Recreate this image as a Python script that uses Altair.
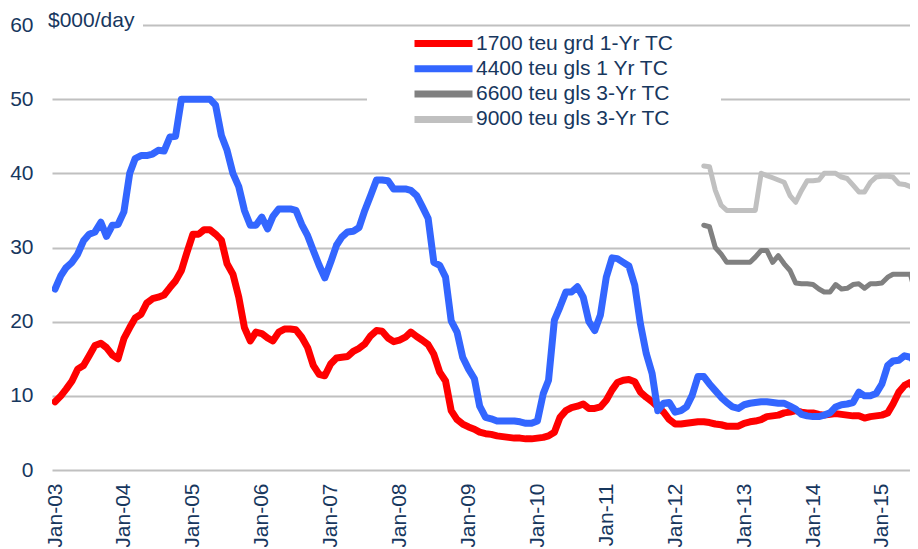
import altair as alt
import pandas as pd

# ---------------- data ----------------
series_names = [
    "1700 teu grd 1-Yr TC",
    "4400 teu gls 1 Yr TC",
    "6600 teu gls 3-Yr TC",
    "9000 teu gls 3-Yr TC",
]
series_colors = ["#FF0000", "#3366FF", "#808080", "#C0C0C0"]

# monthly, Jan-03 .. Jul-15
red_values = [
    9.2, 10.0, 10.9, 12.0, 13.6, 14.1, 15.4, 16.8, 17.1, 16.5, 15.5, 15.0,   # 2003
    17.7, 19.2, 20.5, 21.0, 22.5, 23.1, 23.3, 23.6, 24.6, 25.5, 26.9, 29.4,  # 2004
    31.8, 31.8, 32.4, 32.4, 31.8, 31.0, 27.8, 26.4, 23.3, 19.2, 17.4, 18.6,  # 2005
    18.4, 17.8, 17.4, 18.6, 19.0, 19.0, 18.9, 17.9, 16.5, 14.1, 12.9, 12.7,  # 2006
    14.3, 15.1, 15.2, 15.3, 16.0, 16.4, 17.0, 18.1, 18.8, 18.7, 17.8, 17.3,  # 2007
    17.5, 17.9, 18.6, 18.0, 17.5, 16.9, 15.6, 13.2, 12.0, 8.0, 6.8, 6.2,     # 2008
    5.8, 5.5, 5.1, 4.9, 4.8, 4.6, 4.5, 4.4, 4.3, 4.3, 4.2, 4.2,              # 2009
    4.3, 4.4, 4.6, 5.1, 7.1, 8.0, 8.4, 8.6, 8.9, 8.3, 8.3, 8.5,              # 2010
    9.4, 10.8, 11.8, 12.1, 12.2, 11.9, 10.5, 9.8, 9.2, 8.5, 7.8, 6.8,        # 2011
    6.2, 6.2, 6.3, 6.4, 6.5, 6.5, 6.4, 6.2, 6.1, 5.9, 5.9, 5.9,              # 2012
    6.3, 6.5, 6.6, 6.8, 7.2, 7.3, 7.4, 7.7, 7.8, 8.0, 7.8, 7.7,              # 2013
    7.7, 7.5, 7.4, 7.5, 7.6, 7.5, 7.4, 7.3, 7.3, 7.0, 7.2, 7.3,              # 2014
    7.4, 7.7, 8.9, 10.5, 11.4, 11.8, 10.5,                                   # 2015
]
blue_values = [
    24.4, 26.2, 27.3, 28.0, 29.1, 30.9, 31.8, 32.1, 33.4, 31.5, 33.0, 33.1,  # 2003
    34.8, 40.0, 42.0, 42.4, 42.4, 42.6, 43.1, 43.0, 44.9, 45.0, 50.0, 50.0,  # 2004
    50.0, 50.0, 50.0, 50.0, 49.2, 45.1, 43.1, 40.0, 38.2, 35.0, 33.0, 33.0,  # 2005
    34.1, 32.5, 34.2, 35.2, 35.2, 35.2, 35.0, 33.1, 31.6, 29.6, 27.6, 25.9,  # 2006
    28.0, 30.3, 31.4, 32.1, 32.2, 32.7, 35.0, 37.0, 39.1, 39.1, 39.0, 37.9,  # 2007
    37.9, 37.9, 37.7, 37.0, 35.5, 33.9, 28.0, 27.6, 26.0, 20.1, 18.6, 15.2,  # 2008
    13.6, 12.3, 8.6, 7.1, 6.9, 6.6, 6.6, 6.6, 6.6, 6.5, 6.3, 6.3,            # 2009
    6.6, 10.3, 12.1, 20.2, 22.0, 24.0, 24.0, 24.7, 23.3, 20.0, 18.8, 20.9,   # 2010
    26.0, 28.6, 28.5, 28.0, 27.5, 24.9, 19.7, 15.7, 13.0, 8.0, 9.0, 9.1,     # 2011
    7.8, 8.0, 8.5, 10.1, 12.6, 12.6, 11.6, 10.7, 9.8, 9.1, 8.5, 8.3,         # 2012
    8.8, 9.0, 9.1, 9.2, 9.2, 9.1, 9.0, 9.0, 8.6, 8.2, 7.5, 7.3,              # 2013
    7.2, 7.2, 7.4, 7.7, 8.5, 8.8, 8.9, 9.1, 10.5, 10.0, 10.0, 10.3,          # 2014
    11.6, 14.1, 14.7, 14.8, 15.4, 15.2, 14.5,                                # 2015
]
# monthly, Jun-12 .. Jul-15
dark_gray_values = [
    33.0, 32.8, 30.0, 29.1, 28.0, 28.0, 28.0,                                # 2012
    28.0, 28.0, 28.7, 29.6, 29.6, 28.0, 28.9, 27.8, 26.9, 25.2, 25.1, 25.1,  # 2013
    25.0, 24.4, 24.0, 24.0, 25.0, 24.4, 24.5, 25.0, 25.1, 24.5, 25.1, 25.1,  # 2014
    25.2, 26.0, 26.4, 26.4, 26.4, 26.4, 23.5,                                # 2015
]
light_gray_values = [
    41.0, 40.9, 37.7, 35.7, 35.0, 35.0, 35.0,                                # 2012
    35.0, 35.0, 35.0, 40.0, 39.7, 39.4, 39.1, 38.8, 37.0, 36.1, 37.7, 39.0,  # 2013
    39.0, 39.1, 40.0, 40.0, 40.0, 39.5, 39.3, 38.4, 37.5, 37.5, 38.8, 39.5,  # 2014
    39.6, 39.6, 39.5, 38.6, 38.5, 38.2, 37.8,                                # 2015
]
months = pd.date_range("2003-01-01", "2015-07-01", freq="MS").strftime("%Y-%m-%d").tolist()
gray_months = months[months.index("2012-06-01"):]
tick_years = list(range(2003, 2016))
y_ticks = [0, 10, 20, 30, 40, 50, 60]
unit_label = "$000/day"

assert len(red_values) == len(months), len(red_values)
assert len(blue_values) == len(months), len(blue_values)
assert len(dark_gray_values) == len(gray_months), len(dark_gray_values)
assert len(light_gray_values) == len(gray_months), len(light_gray_values)

rows = []
for name, ms, vals in [
    (series_names[0], months, red_values),
    (series_names[1], months, blue_values),
    (series_names[2], gray_months, dark_gray_values),
    (series_names[3], gray_months, light_gray_values),
]:
    for d, v in zip(ms, vals):
        rows.append({"date": d, "value": v, "series": name})
df = pd.DataFrame(rows)

# ---------------- style ----------------
FONT = "Liberation Sans"
TXT = "#17375E"

x_enc = alt.X(
    "date:T",
    scale=alt.Scale(
        type="utc",
        domain=[alt.DateTime(year=2002, month=12, date=16, utc=True),
                alt.DateTime(year=2015, month=5, date=30, utc=True)],
        nice=False,
    ),
    axis=alt.Axis(
        values=[alt.DateTime(year=y, month=1, date=1, utc=True) for y in tick_years],
        labelExpr="utcFormat(datum.value, '%b-%y')", labelAngle=-90,
        labelFont=FONT, labelFontSize=21, labelColor=TXT, labelPadding=13,
        ticks=False, domain=False, grid=False, title=None, labelOverlap=False,
    ),
)
y_enc = alt.Y(
    "value:Q",
    scale=alt.Scale(domain=[0, 60], nice=False),
    axis=alt.Axis(
        values=y_ticks, grid=True, gridColor="#C0C0C0", gridWidth=2,
        ticks=False, domain=False,
        labelFont=FONT, labelFontSize=21, labelColor=TXT, labelPadding=19,
        title=None,
    ),
)
color_enc = alt.Color(
    "series:N",
    scale=alt.Scale(domain=series_names, range=series_colors),
    legend=alt.Legend(
        orient="none", legendX=359, legendY=6, direction="vertical", title=None,
        symbolType="stroke", symbolSize=3364, symbolStrokeWidth=7,
        labelFont=FONT, labelFontSize=21, labelColor=TXT, labelOffset=0,
        labelLimit=400, clipHeight=25, rowPadding=0.3, padding=0, symbolOffset=0,
    ),
)

def series_line(name, width):
    return (
        alt.Chart(df)
        .transform_filter(alt.datum.series == name)
        .mark_line(strokeWidth=width, strokeJoin="round", strokeCap="round", clip=True)
        .encode(x=x_enc, y=y_enc, color=color_enc)
    )

one = alt.Data(values=[{"k": 1}])
mask_title = alt.Chart(one).mark_rect(fill="white").encode(
    x=alt.value(0), x2=alt.value(91), y=alt.value(-3), y2=alt.value(3))
mask_legend = alt.Chart(one).mark_rect(fill="white").encode(
    x=alt.value(315), x2=alt.value(669), y=alt.value(69), y2=alt.value(79))
unit_text = alt.Chart(one).mark_text(
    align="left", baseline="alphabetic", font=FONT, fontSize=21, color=TXT
).encode(x=alt.value(-4), y=alt.value(2), text=alt.value(unit_label))

chart = alt.layer(
    mask_title,
    mask_legend,
    unit_text,
    series_line(series_names[0], 7),
    series_line(series_names[1], 7),
    series_line(series_names[2], 5),
    series_line(series_names[3], 5),
).properties(
    width=858,
    height=445,
    autosize=alt.AutoSizeParams(type="none"),
    padding={"left": 44, "top": 17, "right": 0, "bottom": 77},
    background="white",
).configure_view(stroke=None)

chart.save("out.html", embed_options={"renderer": "svg", "actions": False})
